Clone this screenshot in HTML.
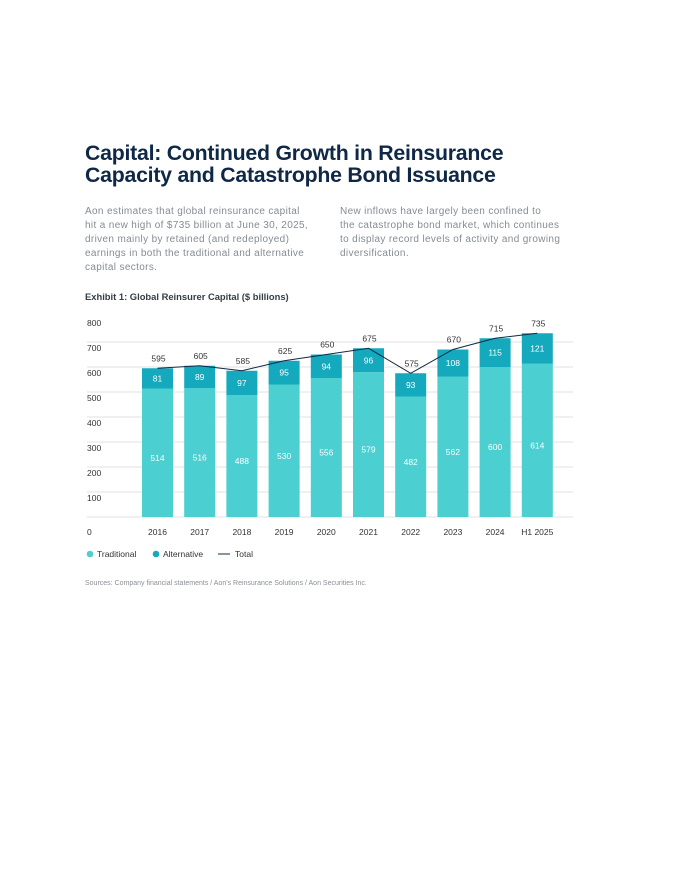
<!DOCTYPE html>
<html><head><meta charset="utf-8"><style>
body{margin:0;width:680px;height:880px;background:#fff;font-family:"Liberation Sans",sans-serif;position:relative;overflow:hidden}
.t{position:absolute;left:85px;top:142px;font-size:21.3px;font-weight:bold;color:#0f2846;line-height:22px;letter-spacing:-0.25px}
.p{position:absolute;top:205px;font-size:10px;line-height:14px;color:#858c94;letter-spacing:0.35px;white-space:nowrap}
.ex{position:absolute;left:85px;top:291px;font-size:9.4px;font-weight:bold;color:#333d48}
.src{position:absolute;left:85px;top:580px;font-size:7px;color:#8a9096}
svg{position:absolute;left:0;top:0}
</style></head><body>
<div class="t">Capital: Continued Growth in Reinsurance<br>Capacity and Catastrophe Bond Issuance</div>
<div class="p" style="left:85px">Aon estimates that global reinsurance capital<br>hit a new high of $735 billion at June 30, 2025,<br>driven mainly by retained (and redeployed)<br>earnings in both the traditional and alternative<br>capital sectors.</div>
<div class="p" style="left:340px">New inflows have largely been confined to<br>the catastrophe bond market, which continues<br>to display record levels of activity and growing<br>diversification.</div>
<div class="ex">Exhibit 1: Global Reinsurer Capital ($ billions)</div>
<svg id="chart" width="680" height="880"></svg>
<div class="src">Sources: Company financial statements / Aon's Reinsurance Solutions / Aon Securities Inc.</div>
<script>
const categories=["2016","2017","2018","2019","2020","2021","2022","2023","2024","H1 2025"];
const traditional=[514,516,488,530,556,579,482,562,600,614];
const alternative=[81,89,97,95,94,96,93,108,115,121];
const totals=[595,605,585,625,650,675,575,670,715,735];
const yTicks=[0,100,200,300,400,500,600,700,800];
const NS="http://www.w3.org/2000/svg";
const svg=document.getElementById('chart');
const y=v=>517-v*0.25;
const x=i=>157.5+i*42.2;
function mk(t,a,p){const e=document.createElementNS(NS,t);for(const k in a)e.setAttribute(k,a[k]);(p||svg).appendChild(e);return e;}
yTicks.forEach(v=>{
  if(v>0&&v<800){const l=mk('line',{x1:87,x2:573,y1:y(v),y2:y(v),stroke:'#d6d9dc','stroke-width':0.8});
  
  }
  const t=mk('text',{x:87,y:y(v)+9+(v==0?9:0),'font-size':8.5,fill:'#333'});t.textContent=v;
  
  
});
const bl=mk('line',{x1:87,x2:573,y1:517,y2:517,stroke:'#d6d9dc','stroke-width':0.8});


categories.forEach((c,i)=>{
  const cx=x(i),w=31;
  const r1=mk('rect',{x:cx-w/2,y:y(traditional[i]),width:w,height:517-y(traditional[i]),fill:'#4bcfd0'});
  
  
  const top=traditional[i]+alternative[i];
  const r2=mk('rect',{x:cx-w/2,y:y(top),width:w,height:y(traditional[i])-y(top),fill:'#14a9bd'});
  
  
  const t1=mk('text',{x:cx,y:y(traditional[i]/2)+8,'font-size':8.5,fill:'#fff','text-anchor':'middle'});t1.textContent=traditional[i];
  
  
  const t2=mk('text',{x:cx,y:(y(top)+y(traditional[i]))/2+3,'font-size':8.5,fill:'#fff','text-anchor':'middle'});t2.textContent=alternative[i];
  
  
  const t3=mk('text',{x:cx+1,y:y(totals[i])-7,'font-size':8.5,fill:'#333','text-anchor':'middle'});t3.textContent=totals[i];
  
  
  const tx=mk('text',{x:cx,y:535,'font-size':8.5,fill:'#333','text-anchor':'middle'});tx.textContent=c;
  
  
});
const pl=mk('polyline',{points:totals.map((v,i)=>x(i)+','+y(v)).join(' '),fill:'none',stroke:'#0f2846','stroke-width':1});


const lg=mk('g',{});


mk('circle',{cx:90,cy:554,r:3.3,fill:'#4bcfd0'},lg);
mk('text',{x:97,y:557,'font-size':8.5,fill:'#333'},lg).textContent='Traditional';
mk('circle',{cx:156,cy:554,r:3.3,fill:'#14a9bd'},lg);
mk('text',{x:163,y:557,'font-size':8.5,fill:'#333'},lg).textContent='Alternative';
mk('line',{x1:218,x2:230,y1:554,y2:554,stroke:'#0f2846','stroke-width':1},lg);
mk('text',{x:235,y:557,'font-size':8.5,fill:'#333'},lg).textContent='Total';
</script>
</body></html>
